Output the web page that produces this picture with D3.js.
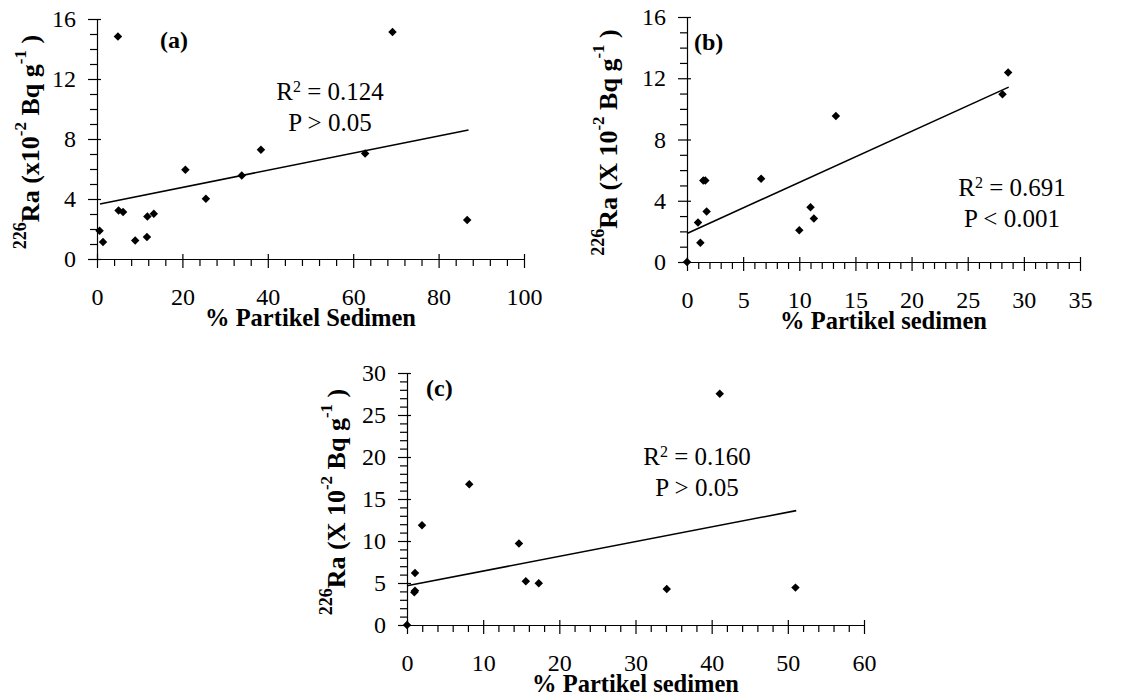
<!DOCTYPE html>
<html>
<head>
<meta charset="utf-8">
<script src="https://cdn.jsdelivr.net/npm/d3@7"></script>
<style>
  body { margin: 0; background: #fff; }
  svg { display: block; }
</style>
</head>
<body>
<svg id="chart" width="1146" height="696"></svg>
<script>
// panel (a) values
const xA = [4.9, 69.2, 0.6, 1.4, 5.05, 6.1, 8.95, 11.7, 11.8, 13.3, 20.7, 25.5, 33.9, 38.4, 62.8, 86.7];
const yA = [14.84, 15.13, 1.89, 1.13, 3.24, 3.13, 1.24, 1.47, 2.84, 3.02, 5.95, 4.02, 5.57, 7.29, 7.04, 2.6];
const fitA = [[0.7, 3.67], [87, 8.6]];

// panel (b) values
const xB = [0, 0.98, 1.19, 1.45, 1.63, 1.75, 6.6, 10.0, 11.0, 11.3, 13.26, 28.1, 28.6];
const yB = [0, 2.58, 1.25, 5.33, 5.33, 3.3, 5.44, 2.08, 3.58, 2.84, 9.54, 10.96, 12.38];
const fitB = [[0, 1.86], [28.65, 11.42]];

// panel (c) values
const xC = [0, 1.05, 0.96, 1.05, 1.97, 8.17, 14.7, 15.6, 17.3, 41.06, 34.1, 51.0];
const yC = [0, 6.2, 3.89, 4.09, 11.87, 16.76, 9.69, 5.2, 4.96, 27.53, 4.29, 4.45];
const fitC = [[0, 4.68], [51.1, 13.62]];

// tick values
const xTicksA = [0, 20, 40, 60, 80, 100], yTicksA = [0, 4, 8, 12, 16];
const xTicksB = [0, 5, 10, 15, 20, 25, 30, 35], yTicksB = [0, 4, 8, 12, 16];
const xTicksC = [0, 10, 20, 30, 40, 50, 60], yTicksC = [0, 5, 10, 15, 20, 25, 30];

const serif = "Liberation Serif, Times New Roman, serif";
const svg = d3.select("#chart");

const panels = [
  { label: "(a)", xs: xA, ys: yA, fit: fitA, xTicks: xTicksA, yTicks: yTicksA,
    xMinor: 4, yMinor: 1, xDom: [0, 100], yDom: [0, 16],
    left: 97, right: 524, top: 19, bottom: 259,
    xTitle: "% Partikel Sedimen", yUnit: "(x10",
    stats: ["0.124", "P > 0.05"], statX: 330, statY: 100,
    labelX: 160, labelY: 48, yTitleX: 30 },
  { label: "(b)", xs: xB, ys: yB, fit: fitB, xTicks: xTicksB, yTicks: yTicksB,
    xMinor: 1, yMinor: 1, xDom: [0, 35], yDom: [0, 16],
    left: 687, right: 1080, top: 17, bottom: 262,
    xTitle: "% Partikel sedimen", yUnit: "(X 10",
    stats: ["0.691", "P < 0.001"], statX: 1012, statY: 196,
    labelX: 694, labelY: 50, yTitleX: 608 },
  { label: "(c)", xs: xC, ys: yC, fit: fitC, xTicks: xTicksC, yTicks: yTicksC,
    xMinor: 2, yMinor: 1, xDom: [0, 60], yDom: [0, 30],
    left: 407, right: 864, top: 373, bottom: 625,
    xTitle: "% Partikel sedimen", yUnit: "(X 10",
    stats: ["0.160", "P > 0.05"], statX: 697, statY: 465,
    labelX: 426, labelY: 396, yTitleX: 336 }
];

panels.forEach(drawPanel);

function drawPanel(p) {
  const x = d3.scaleLinear().domain(p.xDom).range([p.left, p.right]);
  const y = d3.scaleLinear().domain(p.yDom).range([p.bottom, p.top]);
  const g = svg.append("g");

  const xMinors = d3.range(p.xDom[0], p.xDom[1] + 1e-9, p.xMinor).filter(v => !p.xTicks.includes(v));
  const yMinors = d3.range(p.yDom[0], p.yDom[1] + 1e-9, p.yMinor).filter(v => !p.yTicks.includes(v));

  // minor ticks
  g.append("g")
    .attr("transform", `translate(0,${p.bottom})`)
    .call(d3.axisBottom(x).tickValues(xMinors).tickSize(7).tickFormat(""))
    .call(a => a.select(".domain").remove());
  g.append("g")
    .attr("transform", `translate(${p.left},0)`)
    .call(d3.axisLeft(y).tickValues(yMinors).tickSize(7).tickFormat(""))
    .call(a => a.select(".domain").remove());

  // major x axis
  const gx = g.append("g")
    .attr("transform", `translate(0,${p.bottom})`)
    .call(d3.axisBottom(x).tickValues(p.xTicks).tickSize(9).tickSizeOuter(0));
  gx.selectAll(".tick line").attr("y1", -5);
  gx.selectAll(".tick text").attr("y", 29).attr("dy", "0.71em");

  // major y axis
  const gy = g.append("g")
    .attr("transform", `translate(${p.left},0)`)
    .call(d3.axisLeft(y).tickValues(p.yTicks).tickSize(9).tickSizeOuter(0).tickPadding(12));
  gy.selectAll(".tick line").attr("x1", 4);

  g.selectAll(".tick text")
    .attr("font-family", serif)
    .attr("font-size", 24)
    .attr("fill", "#000");
  g.selectAll("g").attr("font-family", serif).attr("font-size", 24);
  g.selectAll("line, .domain").attr("stroke", "#000").attr("stroke-width", 1.2);

  // trend line
  g.append("path")
    .datum(p.fit)
    .attr("d", d3.line().x(d => x(d[0])).y(d => y(d[1])))
    .attr("fill", "none")
    .attr("stroke", "#000")
    .attr("stroke-width", 1.6);

  // points
  const diamond = d3.symbol(d3.symbolSquare, 36);
  g.append("g").selectAll("path")
    .data(d3.zip(p.xs, p.ys))
    .join("path")
    .attr("d", diamond)
    .attr("transform", d => `translate(${x(d[0])},${y(d[1])}) rotate(45)`)
    .attr("fill", "#000");

  // panel label
  g.append("text")
    .attr("x", p.labelX)
    .attr("y", p.labelY)
    .attr("font-family", serif)
    .attr("font-weight", "bold")
    .attr("font-size", 24)
    .text(p.label);

  // R2 and P
  const st = g.append("text")
    .attr("x", p.statX)
    .attr("y", p.statY)
    .attr("text-anchor", "middle")
    .attr("font-family", serif)
    .attr("font-size", 25);
  st.append("tspan").text("R");
  st.append("tspan").attr("baseline-shift", "super").attr("font-size", 16).text("2");
  st.append("tspan").text(" = " + p.stats[0]);
  g.append("text")
    .attr("x", p.statX)
    .attr("y", p.statY + 31)
    .attr("text-anchor", "middle")
    .attr("font-family", serif)
    .attr("font-size", 25)
    .text(p.stats[1]);

  // x title
  g.append("text")
    .attr("x", (p.left + p.right) / 2)
    .attr("y", p.bottom + 67)
    .attr("text-anchor", "middle")
    .attr("font-family", serif)
    .attr("font-weight", "bold")
    .attr("font-size", 24.5)
    .text(p.xTitle);

  // y title
  const yt = g.append("text")
    .attr("transform", `translate(${p.yTitleX},${(p.top + p.bottom) / 2 + 3}) rotate(-90)`)
    .attr("text-anchor", "middle")
    .attr("dominant-baseline", "central")
    .attr("font-family", serif)
    .attr("font-weight", "bold")
    .attr("font-size", 26);
  yt.append("tspan").attr("baseline-shift", "super").attr("font-size", 18).text("226");
  yt.append("tspan").text("Ra " + p.yUnit);
  yt.append("tspan").attr("baseline-shift", "super").attr("font-size", 17).text("-2");
  yt.append("tspan").text(" Bq g");
  yt.append("tspan").attr("baseline-shift", "super").attr("font-size", 17).text("-1");
  yt.append("tspan").text(" )");
}
</script>
</body>
</html>
